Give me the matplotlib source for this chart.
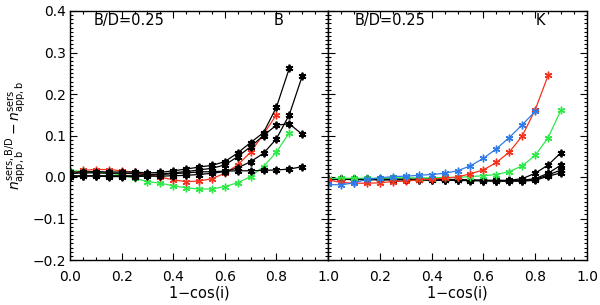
import matplotlib
matplotlib.use("Agg")
import matplotlib.pyplot as plt
from matplotlib.ticker import MultipleLocator

# inclination grid, 1-cos(i)
inc = [0.0, 0.05, 0.1, 0.15, 0.2, 0.25, 0.3, 0.35, 0.4, 0.45,
       0.5, 0.55, 0.6, 0.65, 0.7, 0.75, 0.8, 0.85, 0.9]

# B band
b_black1 = [0.012, 0.012, 0.013, 0.012, 0.012, 0.012, 0.010, 0.011, 0.015, 0.019,
            0.024, 0.028, 0.037, 0.058, 0.083, 0.107, 0.168, 0.262]
b_black2 = [0.000, 0.002, 0.002, 0.001, 0.001, 0.001, 0.002, 0.002, 0.003, 0.004,
            0.006, 0.009, 0.013, 0.022, 0.037, 0.057, 0.092, 0.150, 0.243]
b_black3 = [0.008, 0.010, 0.010, 0.009, 0.009, 0.008, 0.006, 0.007, 0.010, 0.013,
            0.017, 0.021, 0.029, 0.049, 0.073, 0.100, 0.125, 0.128, 0.103]
b_black4 = [0.003, 0.003, 0.003, 0.003, 0.003, 0.003, 0.005, 0.006, 0.008, 0.010,
            0.012, 0.013, 0.014, 0.015, 0.015, 0.016, 0.017, 0.019, 0.025]
b_red = [0.005, 0.016, 0.018, 0.018, 0.015, 0.011, 0.006, 0.000, -0.007, -0.011,
         -0.010, -0.004, 0.009, 0.029, 0.060, 0.103, 0.150]
b_green = [0.015, 0.014, 0.012, 0.009, 0.005, -0.003, -0.011, -0.015, -0.021, -0.026,
           -0.029, -0.029, -0.023, -0.014, 0.001, 0.025, 0.060, 0.107]

# K band
k_red = [-0.007, -0.013, -0.015, -0.015, -0.014, -0.011, -0.010, -0.007, -0.005, -0.003,
         0.000, 0.008, 0.017, 0.035, 0.060, 0.099, 0.162, 0.245]
k_blue = [-0.018, -0.019, -0.014, -0.006, -0.002, 0.001, 0.002, 0.004, 0.006, 0.009,
          0.015, 0.027, 0.045, 0.068, 0.095, 0.126, 0.158]
k_green = [-0.004, -0.003, -0.003, -0.003, -0.003, -0.002, -0.002, -0.002, -0.002, -0.001,
           -0.001, 0.001, 0.003, 0.006, 0.013, 0.027, 0.052, 0.095, 0.162]
k_black1 = [-0.004, -0.004, -0.004, -0.005, -0.005, -0.005, -0.005, -0.005, -0.005, -0.006,
            -0.006, -0.007, -0.008, -0.008, -0.008, -0.004, 0.009, 0.029, 0.059]
k_black2 = [-0.005, -0.005, -0.005, -0.005, -0.005, -0.005, -0.006, -0.006, -0.006, -0.007,
            -0.007, -0.008, -0.008, -0.009, -0.009, -0.008, -0.004, 0.009, 0.029]
k_black3 = [-0.005, -0.005, -0.006, -0.006, -0.006, -0.006, -0.006, -0.007, -0.007, -0.007,
            -0.008, -0.008, -0.009, -0.009, -0.009, -0.009, -0.006, 0.005, 0.017]
k_black4 = [-0.006, -0.006, -0.006, -0.006, -0.007, -0.007, -0.007, -0.007, -0.008, -0.008,
            -0.008, -0.009, -0.009, -0.010, -0.010, -0.010, -0.008, 0.002, 0.010]

# tick labels
x_ticks = [0.0, 0.2, 0.4, 0.6, 0.8, 1.0]
x_labels_left = ["0.0", "0.2", "0.4", "0.6", "0.8", ""]
x_labels_right = ["1.0", "0.2", "0.4", "0.6", "0.8", "1.0"]
y_ticks = [-0.2, -0.1, 0.0, 0.1, 0.2, 0.3, 0.4]
y_labels = ["\u22120.2", "\u22120.1", "0.0", "0.1", "0.2", "0.3", "0.4"]

RED = "#f4321e"
GREEN = "#2fe84a"
BLUE = "#2f7be8"
AST = (6, 2, 0)

plt.rcParams["font.family"] = "DejaVu Sans"
plt.rcParams["font.size"] = 10

fig = plt.figure(figsize=(6.0, 3.05), dpi=100)
ax1 = fig.add_axes([70 / 600, 45 / 305, 258 / 600, 249 / 305])
ax2 = fig.add_axes([328 / 600, 45 / 305, 259 / 600, 249 / 305])


def curve(ax, y, color, mew):
    ax.plot(inc[:len(y)], y, color=color, lw=0.9, marker=AST, ms=5.5, mew=mew)


curve(ax1, b_green, GREEN, 1.0)
curve(ax1, b_red, RED, 1.0)
for y in (b_black4, b_black3, b_black2, b_black1):
    curve(ax1, y, "black", 1.3)

for y in (k_black4, k_black3, k_black2, k_black1):
    curve(ax2, y, "black", 1.3)
curve(ax2, k_green, GREEN, 1.0)
curve(ax2, k_red, RED, 1.0)
curve(ax2, k_blue, BLUE, 1.0)

for ax, xl in ((ax1, x_labels_left), (ax2, x_labels_right)):
    ax.set_xlim(0, 1)
    ax.set_ylim(-0.2, 0.4)
    ax.set_xticks(x_ticks)
    ax.set_xticklabels(xl, fontsize=10)
    ax.xaxis.set_minor_locator(MultipleLocator(0.05))
    ax.set_yticks(y_ticks)
    ax.yaxis.set_minor_locator(MultipleLocator(0.01))
    ax.tick_params(which="both", direction="in", top=True, right=True, width=0.8)
    ax.tick_params(which="major", length=5)
    ax.tick_params(which="minor", length=2.5)
    ax.tick_params(axis="x", pad=7)
    ax.set_xlabel("1$-$cos(i)", fontsize=10.5, labelpad=0)
    for s in ax.spines.values():
        s.set_linewidth(1.0)

ax1.set_yticklabels(y_labels, fontsize=10)
ax1.tick_params(axis="y", pad=3)
ax2.tick_params(axis="y", labelleft=False)

ax1.set_ylabel(r"$n^{\rm sers,B/D}_{\rm app,b} - n^{\rm sers}_{\rm app,b}$", fontsize=10, labelpad=2)

ax1.text(0.09, 0.376, "B/D=0.25", fontsize=10.5, va="center", ha="left")
ax1.text(0.81, 0.376, "B", fontsize=10.5, va="center", ha="center")
ax2.text(0.104, 0.376, "B/D=0.25", fontsize=10.5, va="center", ha="left")
ax2.text(0.82, 0.376, "K", fontsize=10.5, va="center", ha="center")

fig.savefig("out.png", dpi=100)
